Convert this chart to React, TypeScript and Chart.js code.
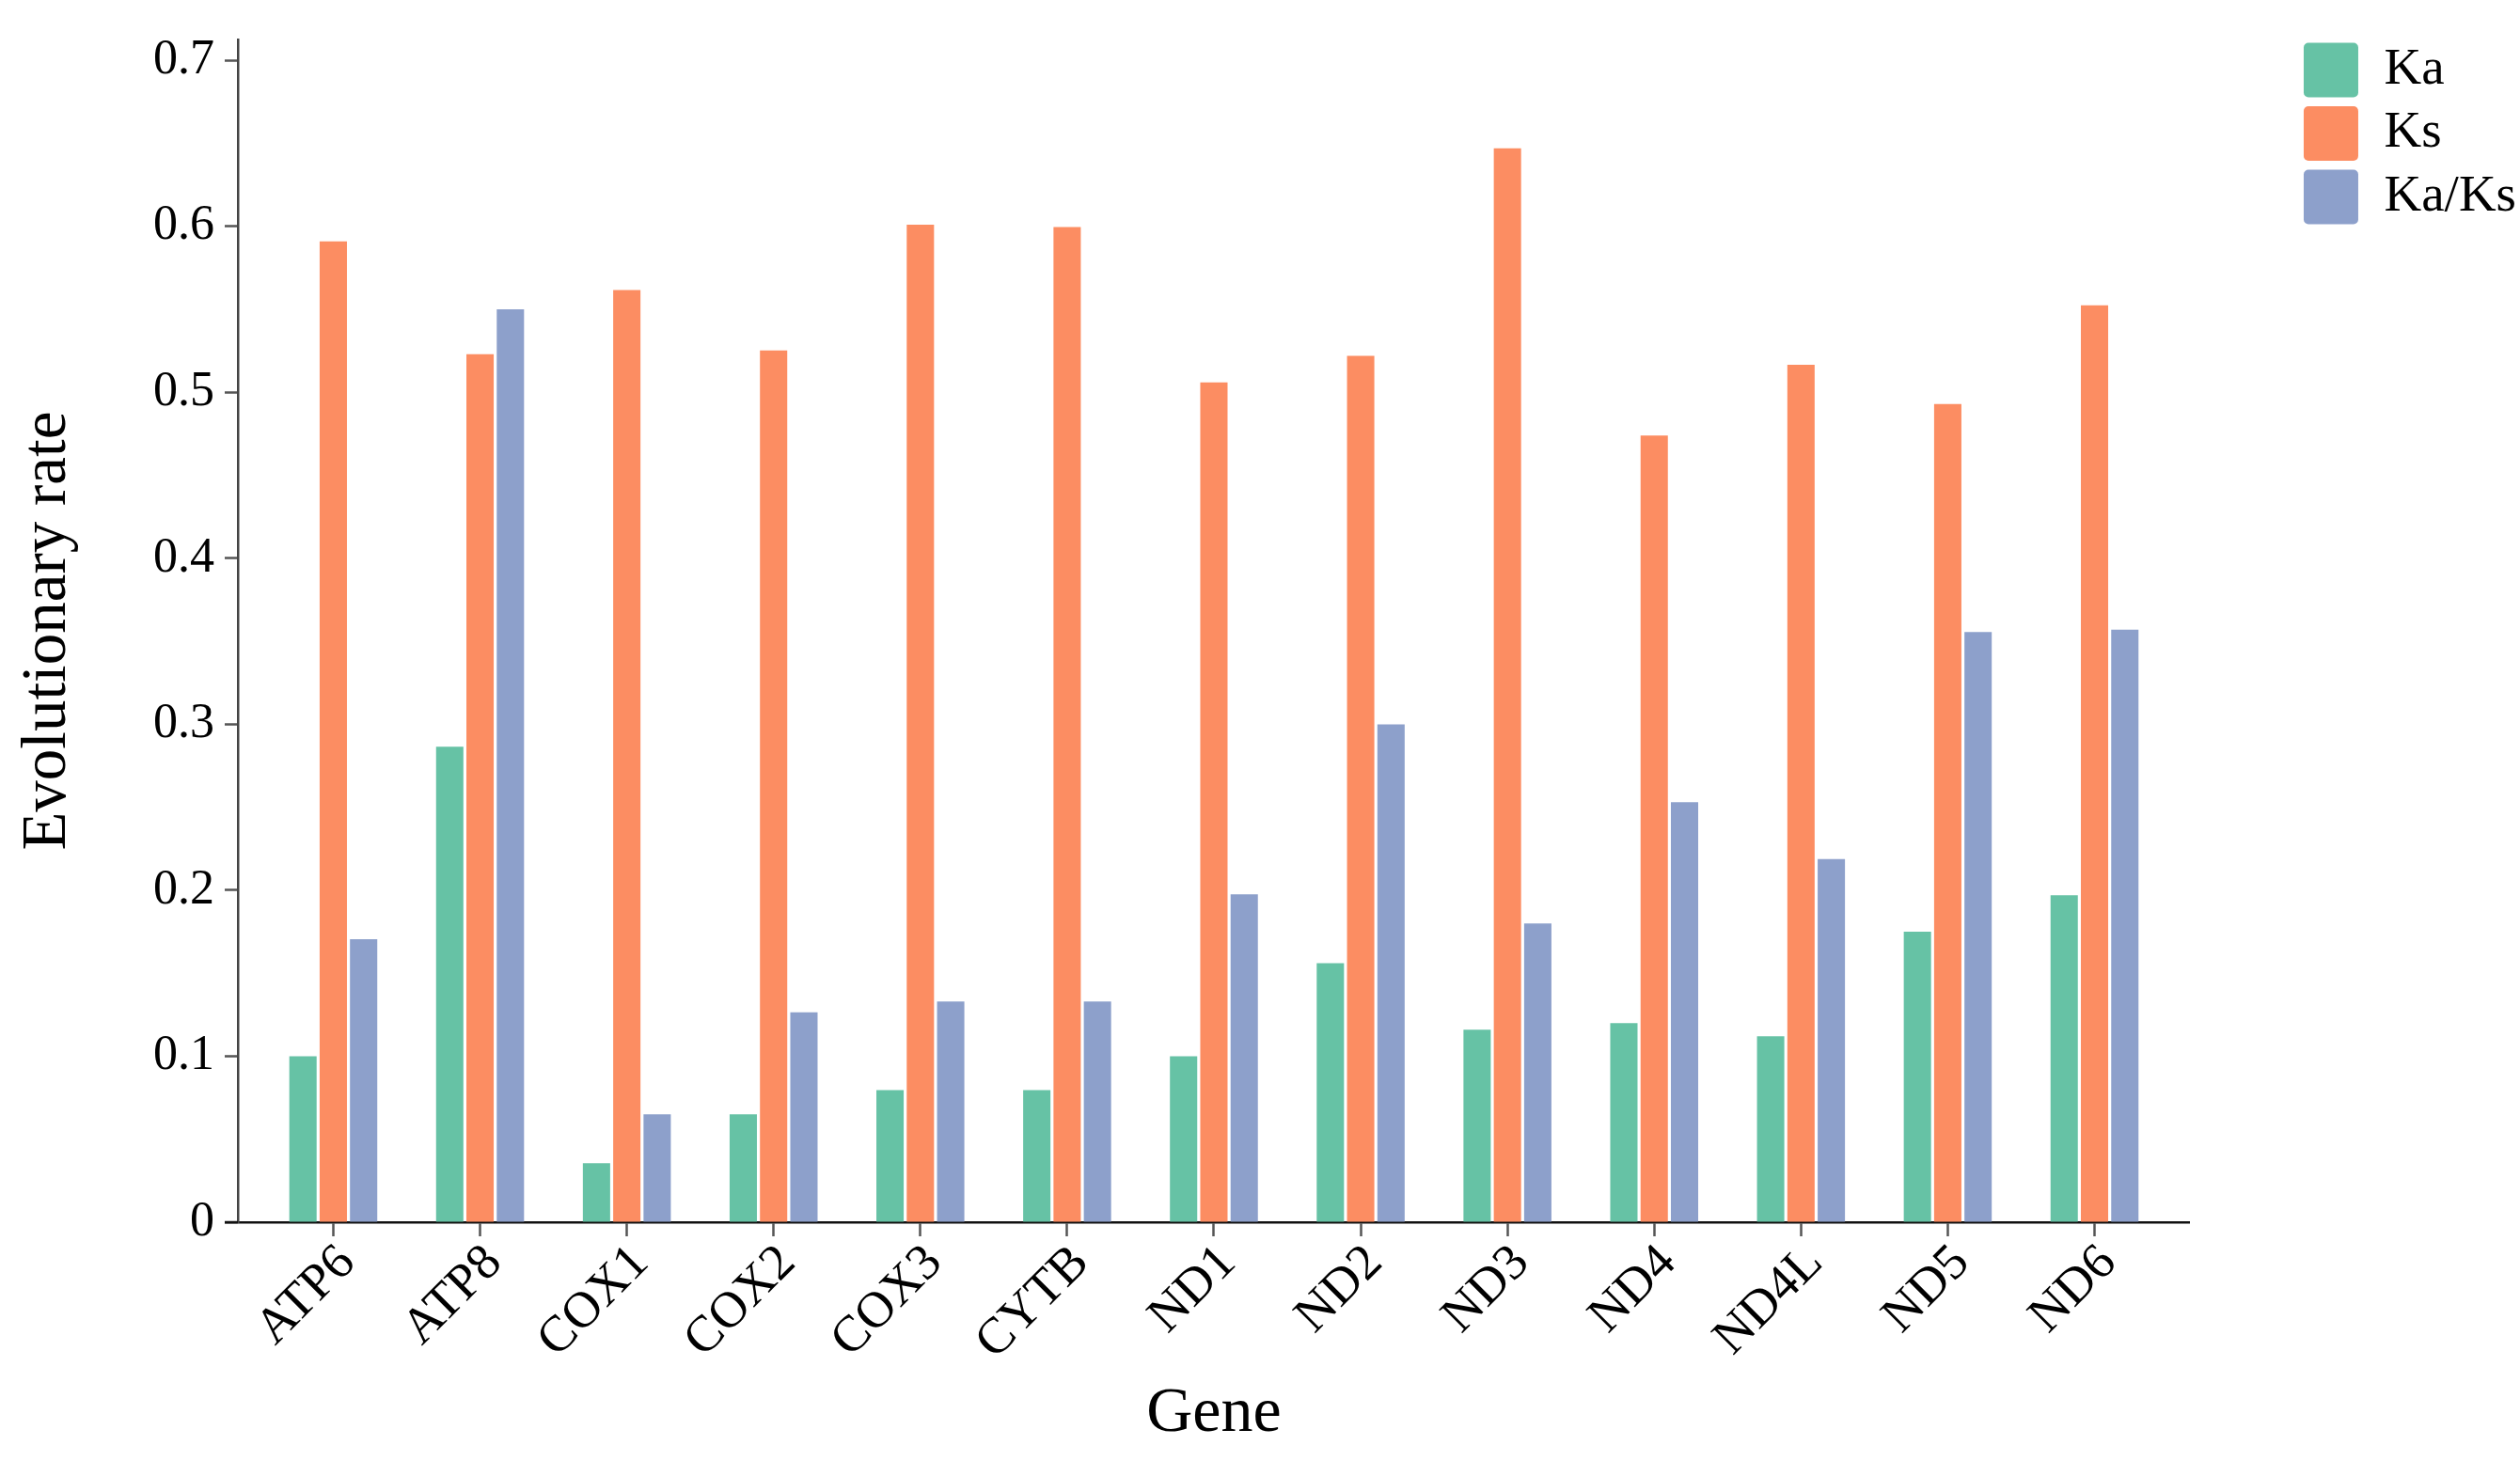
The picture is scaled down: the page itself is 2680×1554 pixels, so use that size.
import React, { useEffect, useRef } from 'react';
import { Chart, registerables } from 'chart.js';

Chart.register(...registerables);

const geneLabels = ['ATP6', 'ATP8', 'COX1', 'COX2', 'COX3', 'CYTB', 'ND1', 'ND2', 'ND3', 'ND4', 'ND4L', 'ND5', 'ND6'];
const kaValues = [0.100, 0.2865, 0.0356, 0.065, 0.0796, 0.0796, 0.100, 0.156, 0.116, 0.120, 0.112, 0.175, 0.197];
const ksValues = [0.591, 0.523, 0.5616, 0.5253, 0.601, 0.5996, 0.506, 0.522, 0.647, 0.474, 0.5166, 0.493, 0.5525];
const kaKsValues = [0.1705, 0.550, 0.065, 0.1265, 0.133, 0.133, 0.1976, 0.300, 0.180, 0.253, 0.2188, 0.3556, 0.357];
const seriesNames = ['Ka', 'Ks', 'Ka/Ks'];
const seriesColors = ['#66C2A5', '#FC8D62', '#8DA0CB'];
const yTickValues = [0, 0.1, 0.2, 0.3, 0.4, 0.5, 0.6, 0.7];
const xTitle = 'Gene';
const yTitle = 'Evolutionary rate';

const FONT = "'Liberation Serif', 'Times New Roman', serif";

export default function App() {
  const ref = useRef<HTMLCanvasElement | null>(null);

  useEffect(() => {
    document.body.style.margin = '0';
    const canvas = ref.current;
    if (!canvas) return;

    const toPoints = (vals: number[]) => vals.map((v, i) => ({ x: i, y: v }));
    const seriesValues = [kaValues, ksValues, kaKsValues];

    const axisExtension = {
      id: 'axisExtension',
      afterDraw(chart: any) {
        const { ctx, chartArea } = chart;
        ctx.save();
        ctx.strokeStyle = '#111';
        ctx.lineWidth = 2.5;
        ctx.beginPath();
        ctx.moveTo(chartArea.left - 14, chartArea.bottom);
        ctx.lineTo(chartArea.left, chartArea.bottom);
        ctx.stroke();
        ctx.restore();
      },
    };

    const chart = new Chart(canvas, {
      type: 'bar',
      data: {
        datasets: seriesNames.map((name, k) => ({
          label: name,
          data: toPoints(seriesValues[k]),
          backgroundColor: seriesColors[k],
          borderWidth: 0,
          categoryPercentage: 0.62,
          barPercentage: 0.9,
        })),
      },
      options: {
        responsive: false,
        animation: false,
        devicePixelRatio: 1,
        layout: { padding: { top: 36, right: -6, bottom: 0, left: 0 } },
        plugins: {
          tooltip: { enabled: false },
          legend: {
            position: 'right',
            align: 'start',
            labels: {
              font: { family: FONT, size: 55 },
              color: '#000',
              boxWidth: 58,
              boxHeight: 58,
              padding: 9.5,
              useBorderRadius: true,
              borderRadius: 5,
            },
          },
        },
        scales: {
          x: {
            type: 'linear',
            min: -0.65,
            max: 12.65,
            bounds: 'data',
            offset: false,
            afterBuildTicks: (axis: any) => {
              axis.ticks = geneLabels.map((_, i) => ({ value: i }));
            },
            afterFit: (s: any) => {
              s.height = 254;
            },
            ticks: {
              autoSkip: false,
              minRotation: 45,
              maxRotation: 45,
              padding: -3,
              labelOffset: 15,
              color: '#000',
              font: { family: FONT, size: 54 },
              callback: (v: any) => geneLabels[v] ?? '',
            },
            grid: {
              display: true,
              offset: false,
              drawOnChartArea: false,
              drawTicks: true,
              tickLength: 15,
              tickColor: '#555',
              tickWidth: 2.5,
            },
            border: { display: true, color: '#111', width: 2.5 },
            title: {
              display: true,
              text: xTitle,
              color: '#000',
              font: { family: FONT, size: 68 },
              padding: { top: 0, bottom: 9 },
            },
          },
          y: {
            type: 'linear',
            min: 0,
            max: 0.7125,
            afterBuildTicks: (axis: any) => {
              axis.ticks = yTickValues.map((v) => ({ value: v }));
            },
            afterFit: (s: any) => {
              s.width = 253;
            },
            ticks: {
              padding: 11,
              color: '#000',
              font: { family: FONT, size: 52 },
              callback: (v: any) => (v === 0 ? '0' : Number(v).toFixed(1)),
            },
            grid: {
              display: true,
              drawOnChartArea: false,
              drawTicks: true,
              tickLength: 14,
              tickColor: '#555',
              tickWidth: 2.5,
            },
            border: { display: true, color: '#444', width: 2.5 },
            title: {
              display: true,
              text: yTitle,
              color: '#000',
              font: { family: FONT, size: 67 },
              padding: { top: 11, bottom: 0 },
            },
          },
          gap: {
            type: 'linear',
            position: 'right',
            display: true,
            grid: { display: false },
            border: { display: false },
            ticks: { display: false },
            afterFit: (s: any) => {
              s.width = 111.5;
            },
          },
        },
      },
      plugins: [axisExtension],
    } as any);

    return () => chart.destroy();
  }, []);

  return <canvas ref={ref} width={2680} height={1554} style={{ display: 'block' }} />;
}
